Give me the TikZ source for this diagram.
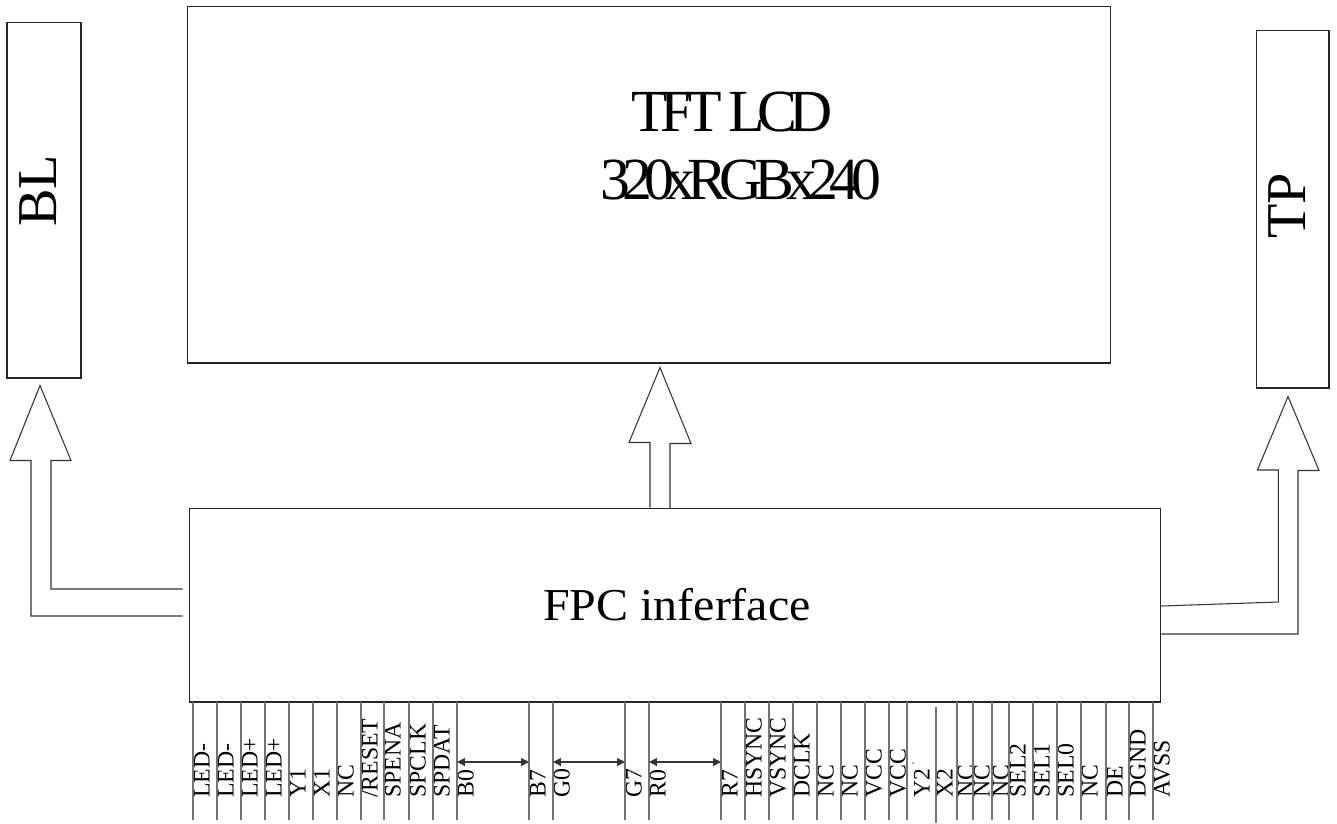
\documentclass[tikz,border=0pt]{standalone}
\usepackage{fontspec}
\setmainfont{Liberation Serif}
\newfontfamily\tightserif{Liberation Serif}[LetterSpace=-13.5]
\newfontfamily\wideserif{Liberation Serif}[FakeStretch=1.05]
\usetikzlibrary{arrows.meta,calc}

\begin{document}
\begin{tikzpicture}[
  x=0.02cm,y=-0.02cm,
  block/.style={draw=black!85,line width=0.6pt,inner sep=0},
  sidetext/.style={font=\fontsize{32}{34}\selectfont,rotate=90,inner sep=0},
  titletext/.style={font=\tightserif\fontsize{34}{36}\selectfont,inner sep=0},
  hollow/.style={draw=black!80,line width=0.6pt},
  pinline/.style={draw=black!55,line width=0.6pt},
  pinlabel/.style={font=\fontsize{13.5}{14}\selectfont,rotate=90,anchor=base west,inner sep=0},
  bus/.style={{Triangle[length=4.5pt,width=4.5pt]}-{Triangle[length=4.5pt,width=4.5pt]},black!80,line width=0.6pt}
]
\useasboundingbox (0,0) rectangle (1337,823);

\node[block,minimum width=1.48cm,minimum height=7.12cm] (bl) at (44,200) {};
\node[sidetext] (bltext) at (38.5,191) {BL};

\node[block,minimum width=18.48cm,minimum height=7.14cm] (tft) at (649,184.5) {};
\node[titletext] (tfttitle) at (732,112) {TFT LCD};
\node[titletext] (tftres) at (741,180) {320xRGBx240};

\node[block,minimum width=1.46cm,minimum height=7.16cm] (tp) at (1292.5,209) {};
\node[sidetext] (tptext) at (1287,206) {TP};

\node[block,minimum width=19.44cm,minimum height=3.88cm] (fpc) at (675,605) {};
\node[font=\wideserif\fontsize{26}{28}\selectfont,inner sep=0] (fpctext) at (677,605) {FPC inferface};

% hollow arrows
\draw[hollow] ($(fpc.west)+(-6,-16)$) -| ($(bl.south)+(7,82)$) -- ++(20,0)
  -- ($(bl.south)+(-4,7)$) -- ++(-30,75) -- ++(21,0) |- ($(fpc.west)+(-6,11)$);
\draw[hollow] ($(fpc.north)+(-25,0)$) -- ++(0,-65) -- ++(-21,0)
  -- ($(tft.south)+(11,4)$) -- ++(31,76) -- ++(-21,0) -- ++(0,65);
\draw[hollow] ($(fpc.east)+(0,1)$) -- ++(117,-4) -- ++(0,-132) -- ++(-21,0)
  -- ($(tp.south)+(-4.5,8)$) -- ++(31,74) -- ++(-21,0) |- ($(fpc.east)+(0,29)$);

% pins
\foreach \x/\lab [count=\i] in {193/LED-,217/LED-,241/LED+,265/LED+,289/Y1,313/X1,337/NC,361/{/RESET},
  384/SPENA,409/SPCLK,433/SPDAT,457/B0,529/B7,553/G0,625/G7,649/R0,721/R7,745/HSYNC,769/VSYNC,
  793/DCLK,817/NC,841/NC,865/VCC,889/VCC,907/Y2,936/X2,957/NC,973/NC,992/NC,1009/SEL2,
  1033/SEL1,1057/SEL0,1081/NC,1106/DE,1129/DGND,1153/AVSS}{
  \pgfmathsetmacro\dx{\i==25 ? 22.5 : 16.5}
  \coordinate (pin\i) at (\x,702);
  \coordinate (bus\i) at (\x,762);
  \node[pinlabel] (lab\i) at (\x+\dx,798) {\lab};
}
\foreach \i in {1,...,25,27,28,...,36}
  \draw[pinline] (pin\i) -- ++(0,118);
\draw[pinline] ($(pin26)+(0,5)$) -- ++(0,116);
\fill[black!60] (913,763) circle[radius=0.5pt];

\draw[bus] (bus12) -- (bus13);
\draw[bus] (bus14) -- (bus15);
\draw[bus] (bus16) -- (bus17);

\end{tikzpicture}
\end{document}
